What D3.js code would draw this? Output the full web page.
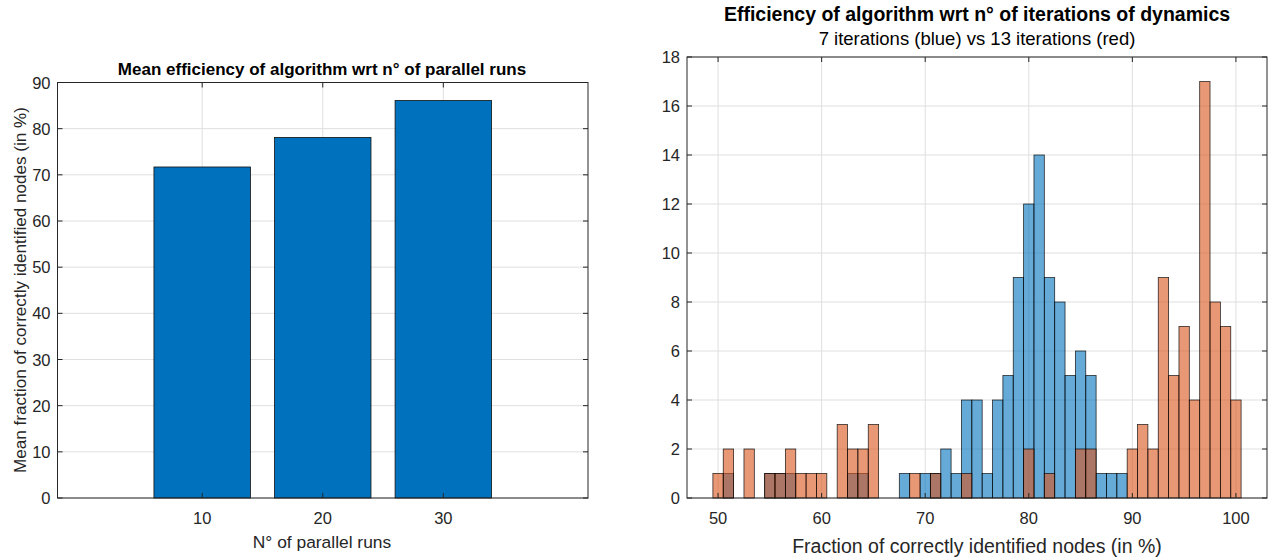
<!DOCTYPE html>
<html lang="en">
<head>
    <meta charset="UTF-8">
    <title>Efficiency</title>
    <script src="https://d3js.org/d3.v7.min.js"></script>
    <style>
        body { margin: 0; background: #fff; }
        text { font-family: "Liberation Sans", Arial, sans-serif; fill: #262626; }
    </style>
</head>
<body>
<svg width="1282" height="557"></svg>
<script>
    // left chart: mean efficiency per number of parallel runs
    const runs = [10, 20, 30];
    const meanEff = [71.7, 78.1, 86.1];
    const leftYTicks = d3.range(0, 91, 10);

    // right chart: histogram counts, bins centred on 50..100
    const binCenters = d3.range(50, 101);
    const blueCounts = [0, 1, 0, 0, 0, 1, 1, 1, 0, 0, 0, 0, 0, 1, 1, 0, 0, 0, 1, 0,
        1, 1, 2, 1, 4, 4, 1, 4, 5, 9, 12, 14, 9, 8, 5, 6, 5, 1, 1, 1,
        0, 0, 0, 0, 0, 0, 0, 0, 0, 0, 0];
    const redCounts = [1, 2, 0, 2, 0, 1, 1, 2, 1, 1, 1, 0, 3, 2, 2, 3, 0, 0, 0, 1,
        0, 1, 0, 0, 1, 0, 0, 0, 0, 0, 2, 0, 1, 0, 0, 2, 2, 0, 0, 0,
        2, 3, 2, 9, 5, 7, 4, 17, 8, 7, 4];
    const rightXTicks = d3.range(50, 101, 10);
    const rightYTicks = d3.range(0, 19, 2);

    const svg = d3.select('svg');
    const axisColor = '#262626';
    const gridColor = '#dfdfdf';
    const tickFont = '16.5px';

    function frame(g, x, y, xTicks, yTicks) {
        const [x0, x1] = x.range();
        const [y0, y1] = y.range();
        // grid
        g.selectAll('.gx').data(xTicks).enter().append('line')
            .attr('x1', d => x(d)).attr('x2', d => x(d))
            .attr('y1', y0).attr('y2', y1)
            .style('stroke', gridColor);
        g.selectAll('.gy').data(yTicks).enter().append('line')
            .attr('x1', x0).attr('x2', x1)
            .attr('y1', d => y(d)).attr('y2', d => y(d))
            .style('stroke', gridColor);
    }

    function box(g, x, y, xTicks, yTicks) {
        const [x0, x1] = x.range();
        const [y0, y1] = y.range();
        g.append('rect')
            .attr('x', x0).attr('y', y1)
            .attr('width', x1 - x0).attr('height', y0 - y1)
            .style('fill', 'none').style('stroke', axisColor).style('stroke-width', 1);
        const t = 5;
        xTicks.forEach(d => {
            g.append('line').attr('x1', x(d)).attr('x2', x(d)).attr('y1', y0).attr('y2', y0 - t).style('stroke', axisColor);
            g.append('line').attr('x1', x(d)).attr('x2', x(d)).attr('y1', y1).attr('y2', y1 + t).style('stroke', axisColor);
        });
        yTicks.forEach(d => {
            g.append('line').attr('x1', x0).attr('x2', x0 + t).attr('y1', y(d)).attr('y2', y(d)).style('stroke', axisColor);
            g.append('line').attr('x1', x1).attr('x2', x1 - t).attr('y1', y(d)).attr('y2', y(d)).style('stroke', axisColor);
        });
        g.selectAll('.xl').data(xTicks).enter().append('text')
            .attr('x', d => x(d)).attr('y', y0 + 26)
            .attr('text-anchor', 'middle').style('font-size', tickFont)
            .text(d => d);
        g.selectAll('.yl').data(yTicks).enter().append('text')
            .attr('x', x0 - 7).attr('y', d => y(d) + 6)
            .attr('text-anchor', 'end').style('font-size', tickFont)
            .text(d => d);
    }

    // ---- left chart
    const xL = d3.scaleLinear().domain([-2, 42]).range([57.5, 588]);
    const yL = d3.scaleLinear().domain([0, 90]).range([498, 82.5]);
    const gL = svg.append('g');
    frame(gL, xL, yL, runs, leftYTicks);
    gL.selectAll('.bar').data(runs).enter().append('rect')
        .attr('x', d => xL(d - 4))
        .attr('width', xL(8) - xL(0))
        .attr('y', (d, i) => yL(meanEff[i]))
        .attr('height', (d, i) => yL(0) - yL(meanEff[i]))
        .style('fill', '#0072bd')
        .style('stroke', '#111')
        .style('stroke-width', 0.8);
    box(gL, xL, yL, runs, leftYTicks);
    gL.append('text').attr('x', 322).attr('y', 75)
        .attr('text-anchor', 'middle').style('font-size', '17px').style('font-weight', 'bold')
        .style('fill', '#000')
        .text('Mean efficiency of algorithm wrt n° of parallel runs');
    gL.append('text').attr('x', 322).attr('y', 548)
        .attr('text-anchor', 'middle').style('font-size', '17.4px')
        .text('N° of parallel runs');
    gL.append('text')
        .attr('transform', 'translate(26,290) rotate(-90)')
        .attr('text-anchor', 'middle').style('font-size', '17.1px')
        .text('Mean fraction of correctly identified nodes (in %)');

    // ---- right chart
    const xR = d3.scaleLinear().domain([47, 103]).range([687, 1267]);
    const yR = d3.scaleLinear().domain([0, 18]).range([498, 57]);
    const gR = svg.append('g');
    frame(gR, xR, yR, rightXTicks, rightYTicks);

    const series = [
        {counts: blueCounts, fill: 'rgba(0,114,189,0.6)'},
        {counts: redCounts, fill: 'rgba(217,83,25,0.6)'}
    ];
    series.forEach(s => {
        gR.append('g').selectAll('rect')
            .data(binCenters.filter((c, i) => s.counts[i] > 0))
            .enter().append('rect')
            .attr('x', c => xR(c - 0.5))
            .attr('width', xR(1) - xR(0))
            .attr('y', c => yR(s.counts[c - 50]))
            .attr('height', c => yR(0) - yR(s.counts[c - 50]))
            .style('fill', s.fill)
            .style('stroke', 'rgba(0,0,0,0.8)')
            .style('stroke-width', 0.8);
    });
    box(gR, xR, yR, rightXTicks, rightYTicks);
    gR.append('text').attr('x', 977).attr('y', 21)
        .attr('text-anchor', 'middle').style('font-size', '19.5px').style('font-weight', 'bold')
        .style('fill', '#000')
        .text('Efficiency of algorithm wrt n° of iterations of dynamics');
    gR.append('text').attr('x', 977).attr('y', 45)
        .attr('text-anchor', 'middle').style('font-size', '18.5px')
        .style('fill', '#000')
        .text('7 iterations (blue) vs 13 iterations (red)');
    gR.append('text').attr('x', 977).attr('y', 553)
        .attr('text-anchor', 'middle').style('font-size', '19.5px')
        .text('Fraction of correctly identified nodes (in %)');
</script>
</body>
</html>
